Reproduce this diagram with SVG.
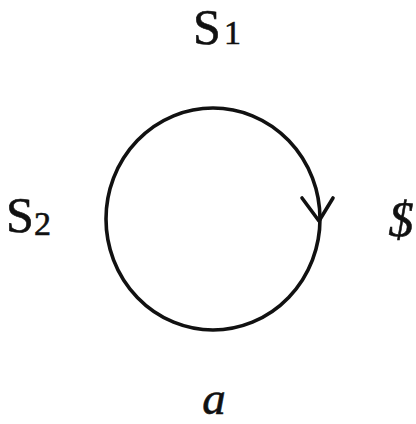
<svg xmlns="http://www.w3.org/2000/svg" width="416" height="424" viewBox="0 0 416 424">
<style>
.lbl{font-family:"Liberation Serif","Times New Roman",serif;fill:#111111;stroke:#111111;stroke-width:0.6}
.edge{fill:none;stroke:#111111;stroke-width:3.6;stroke-linecap:round;stroke-linejoin:round}
</style>
<rect width="416" height="424" fill="#ffffff"/>
<g id="connectors">
<ellipse class="edge" cx="213" cy="219" rx="107" ry="111"/>
<path class="edge" d="M302,198 L319,221 L333,198"/>
</g>
<g id="node-s1">
<text class="lbl" x="193" y="44" font-size="50">S</text>
<text class="lbl" x="224" y="44" font-size="34">1</text>
</g>
<g id="node-s2">
<text class="lbl" x="6" y="232" font-size="50">S</text>
<text class="lbl" x="34" y="235" font-size="34">2</text>
</g>
<g id="node-s3">
<text class="lbl" x="401" y="236" font-size="50" font-style="italic" text-anchor="middle">$</text>
</g>
<g id="caption">
<text class="lbl" x="214" y="414" font-size="47" font-style="italic" text-anchor="middle">a</text>
</g>
</svg>
